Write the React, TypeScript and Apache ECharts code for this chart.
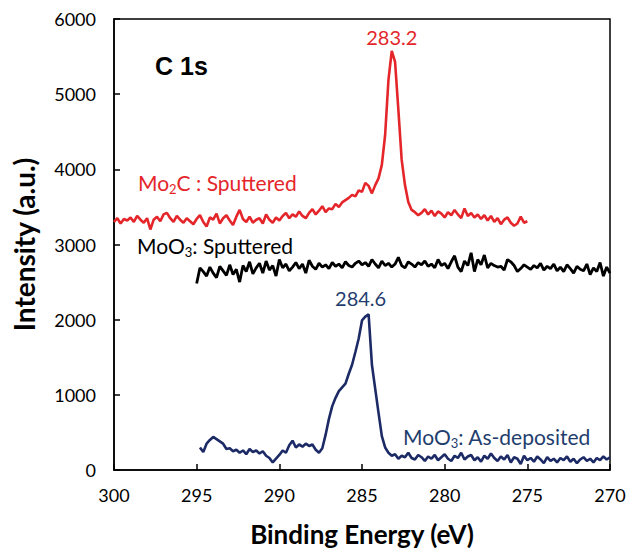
import React, { useEffect, useRef } from "react";
import * as echarts from "echarts";

// Binding-energy grids (eV), sampled every 0.2 eV from each start value downwards
const STEP = 0.2;
const mo2cStart = 300.0;
const moo3SputStart = 295.0;
const moo3DepStart = 294.8;

// Mo2C : Sputtered (300.0 → 275.0 eV)
const mo2cSputtered = [
  3300, 3350, 3280, 3340, 3320, 3360, 3300, 3380, 3330, 3290, 3350,
  3200, 3330, 3370, 3310, 3400, 3420, 3350, 3300, 3380, 3330,
  3290, 3350, 3310, 3270, 3340, 3390, 3300, 3240, 3360, 3330,
  3410, 3280, 3350, 3390, 3320, 3260, 3370, 3460, 3340, 3300,
  3370, 3290, 3330, 3350, 3280, 3400, 3330, 3290, 3360, 3320,
  3380, 3420, 3350, 3400, 3370, 3440, 3380, 3350, 3420, 3470,
  3400, 3450, 3510, 3430, 3480, 3470, 3540, 3500, 3560,
  3590, 3620, 3660, 3640, 3720, 3700, 3820, 3780, 3680, 3790, 3880, 4060, 4460, 5190,
  5575, 5430, 4790, 4125, 3790, 3565, 3460, 3430, 3390,
  3420, 3470, 3400, 3450, 3380, 3440, 3410, 3360, 3430, 3390,
  3460, 3400, 3350, 3480, 3380, 3420, 3360, 3400, 3340, 3390,
  3320, 3380, 3300, 3350, 3270, 3330, 3360, 3290, 3250, 3280,
  3370, 3290, 3310,
];

// MoO3 : Sputtered (295.0 → 270.0 eV)
const moo3Sputtered = [
  2480, 2690, 2640, 2580, 2700, 2620, 2560, 2710, 2650, 2590,
  2730, 2600, 2670, 2500, 2720, 2640, 2770, 2610, 2690, 2750,
  2620, 2780, 2660, 2720, 2580, 2800, 2690, 2740, 2650, 2700,
  2760, 2680, 2740, 2620, 2790, 2710, 2670, 2750, 2700, 2730,
  2680, 2760, 2710, 2740, 2690, 2770, 2720, 2700, 2750, 2780,
  2730, 2760, 2710, 2800, 2740, 2690, 2780, 2720, 2750, 2700,
  2740, 2830, 2720, 2690, 2770, 2740, 2700, 2760, 2730, 2780,
  2710, 2740, 2690, 2800, 2720, 2750, 2680, 2770, 2850, 2700,
  2640, 2780, 2720, 2890, 2640, 2800, 2730, 2860, 2690, 2750,
  2720, 2700, 2710, 2660, 2800, 2770, 2720, 2640, 2680, 2730,
  2700, 2670, 2720, 2690, 2750, 2660, 2710, 2680, 2740, 2650,
  2700, 2640, 2730, 2680, 2620, 2710, 2670, 2650, 2740, 2600,
  2690, 2640, 2760, 2580, 2700, 2620,
];

// MoO3 : As-deposited (294.8 → 270.0 eV)
const moo3AsDeposited = [
  300, 240, 350, 400, 440, 410, 380, 350, 280, 290,
  250, 270, 230, 260, 210, 280, 240, 260, 220, 250,
  190, 160, 100, 150, 200, 260, 230, 330, 390, 300,
  340, 310, 350, 320, 340, 270, 230, 290, 470, 680,
  850, 960, 1050, 1100, 1150, 1280, 1400, 1570, 1750, 1990,
  2040, 2070, 1400, 1080, 760, 450, 300, 230, 190, 210,
  150, 190, 170, 230, 160, 140, 200, 170, 120, 180,
  150, 200, 130, 170, 210, 150, 120, 190, 160, 230,
  140, 180, 200, 130, 170, 110, 190, 150, 220, 160,
  120, 180, 140, 200, 100, 170, 150, 80, 190, 130,
  160, 110, 180, 140, 90, 170, 120, 150, 100, 160,
  130, 180, 110, 150, 90, 140, 170, 120, 150, 100,
  160, 130, 180, 140, 170,
];

// Peak positions quoted on the plot (eV)
const mo2cPeak = 283.2;
const moo3Peak = 284.6;

const xTicks = { min: 270, max: 300, interval: 5 };
const yTicks = { min: 0, max: 6000, interval: 1000 };

const RED = "#E4262B";
const BLACK = "#000000";
const NAVY = "#1C2A66";
const NAVY_TEXT = "#1F3E6E";
const FONT = "Lato";

const toPairs = (start: number, values: number[]) =>
  values.map((v, i) => [+(start - i * STEP).toFixed(2), v]);

const peakValue = (start: number, values: number[], e: number) => {
  const idx = Math.round((start - e) / STEP);
  return values[idx];
};

// Label with a chemical subscript, e.g. Mo₂C
const subLabel = (head: string, sub: string, tail: string, color: string) => ({
  text: `{m|${head}}{s|${sub}}{m|${tail}}`,
  rich: {
    m: { fontSize: 21, fontFamily: FONT, fill: color, lineHeight: 24 },
    s: { fontSize: 13, fontFamily: FONT, fill: color, lineHeight: 12, padding: [12, 0, 0, 0] },
  },
});

export default function App() {
  const ref = useRef<HTMLDivElement>(null);

  useEffect(() => {
    if (!ref.current) return;
    const chart = echarts.init(ref.current, null, { renderer: "svg" });

    const axisText = { fontSize: 18, fontFamily: FONT, color: "#000" };

    chart.setOption({
      animation: false,
      backgroundColor: "#fff",
      grid: {
        left: 114,
        right: 18,
        top: 19,
        bottom: 80,
        outerBoundsMode: "none",
        show: true,
        borderColor: "#000",
        borderWidth: 1.5,
      },
      xAxis: {
        type: "value",
        inverse: true,
        min: xTicks.min,
        max: xTicks.max,
        interval: xTicks.interval,
        name: "Binding Energy (eV)",
        nameLocation: "middle",
        nameGap: 50,
        nameTextStyle: {
          fontSize: 26,
          lineHeight: 28,
          fontWeight: "bold",
          fontFamily: FONT,
          color: "#000",
        },
        axisLine: { lineStyle: { color: "#000", width: 1.5 } },
        axisTick: { inside: true, length: 6, lineStyle: { color: "#000", width: 1.5 } },
        axisLabel: { ...axisText, margin: 16 },
        splitLine: { show: false },
      },
      yAxis: {
        type: "value",
        min: yTicks.min,
        max: yTicks.max,
        interval: yTicks.interval,
        name: "Intensity (a.u.)",
        nameLocation: "middle",
        nameGap: 76,
        nameTextStyle: { fontSize: 28, fontWeight: "bold", fontFamily: FONT, color: "#000" },
        axisLine: { show: true, lineStyle: { color: "#000", width: 1.5 } },
        axisTick: { show: true, inside: true, length: 6, lineStyle: { color: "#000", width: 1.5 } },
        axisLabel: { ...axisText, margin: 18, formatter: (v: number) => String(v) },
        splitLine: { show: false },
      },
      series: [
        {
          name: "Mo2C : Sputtered",
          type: "line",
          data: toPairs(mo2cStart, mo2cSputtered),
          showSymbol: false,
          lineStyle: { color: RED, width: 2.6 },
          markPoint: {
            symbol: "circle",
            symbolSize: 0,
            data: [
              {
                coord: [mo2cPeak, peakValue(mo2cStart, mo2cSputtered, mo2cPeak)],
                value: mo2cPeak,
              },
            ],
            label: {
              show: true,
              position: "top",
              distance: 4,
              formatter: "{c}",
              fontSize: 20,
              fontFamily: FONT,
              color: RED,
            },
          },
        },
        {
          name: "MoO3 : Sputtered",
          type: "line",
          data: toPairs(moo3SputStart, moo3Sputtered),
          showSymbol: false,
          lineStyle: { color: BLACK, width: 2.8 },
        },
        {
          name: "MoO3 : As-deposited",
          type: "line",
          data: toPairs(moo3DepStart, moo3AsDeposited),
          showSymbol: false,
          lineStyle: { color: NAVY, width: 2.6 },
          markPoint: {
            symbol: "circle",
            symbolSize: 0,
            data: [
              {
                coord: [moo3Peak, peakValue(moo3DepStart, moo3AsDeposited, moo3Peak)],
                value: moo3Peak,
              },
            ],
            label: {
              show: true,
              position: "top",
              distance: 6,
              offset: [-8, 0],
              formatter: "{c}",
              fontSize: 20,
              fontFamily: FONT,
              color: NAVY_TEXT,
            },
          },
        },
      ],
      graphic: [
        {
          type: "text",
          left: 155,
          top: 53,
          style: {
            text: "C 1s",
            font: "bold 25px 'Liberation Sans', Arial, sans-serif",
            fill: "#000",
          },
        },
        { type: "text", left: 138, top: 170, style: subLabel("Mo", "2", "C : Sputtered", RED) },
        { type: "text", left: 137, top: 233, style: subLabel("MoO", "3", ": Sputtered", BLACK) },
        { type: "text", left: 403, top: 424, style: subLabel("MoO", "3", ": As-deposited", NAVY_TEXT) },
      ],
    });

    return () => chart.dispose();
  }, []);

  return (
    <div
      ref={ref}
      style={{ position: "fixed", left: 0, top: 0, width: 628, height: 550 }}
    />
  );
}
